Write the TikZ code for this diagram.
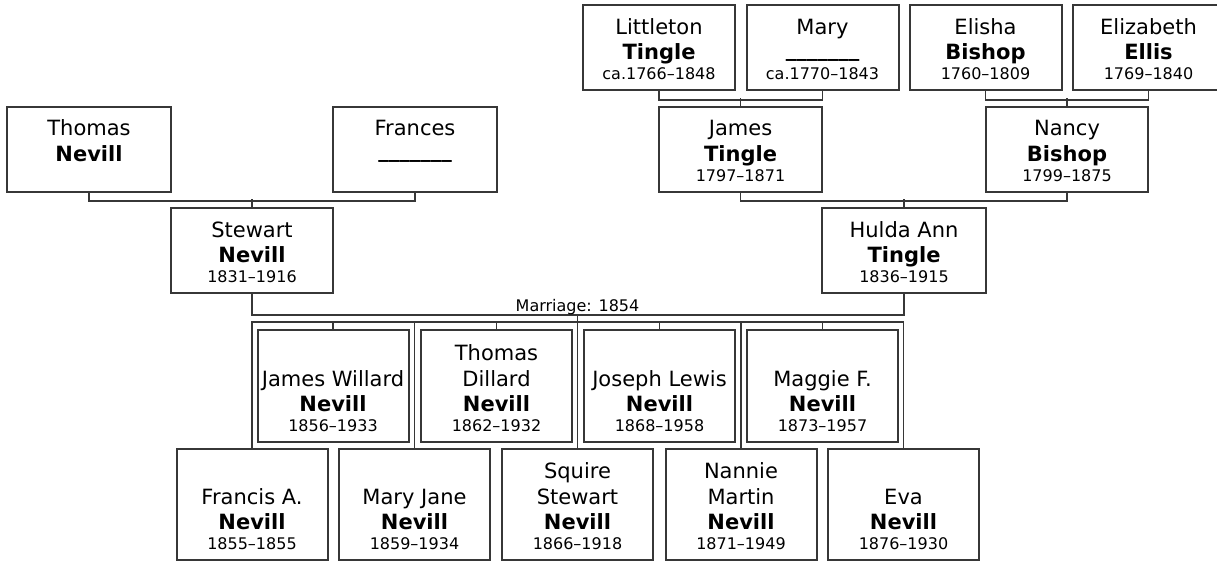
\documentclass[tikz,border=0pt]{standalone}
\usepackage{fontspec}
\setmainfont{DejaVu Sans}
\usetikzlibrary{calc}
\definecolor{lineC}{RGB}{ 55, 55, 55}
\tikzset{
  pbox/.style = {draw=lineC, line width=2pt, inner sep=0pt,
                 minimum height=85pt, font=\fontsize{21}{25.4}\selectfont},
  kbox/.style = {pbox, minimum width=151pt},
  link/.style = {draw=lineC, line width=1.8pt},
  wed/.style  = {font=\fontsize{16}{20}\selectfont, anchor=base, inner sep=0pt},
}
\newcommand{\dates}[1]{{\fontsize{16}{20}\selectfont #1}}
\newcommand{\blank}{\raisebox{3.5pt}{\textbf{\_\_\_\_\_\_\_}}}
% parents: text from the top, children: text down to the bottom
\newcommand{\elder}[1]{\vbox to 85pt{\hsize=150pt\parindent=0pt\centering
  \rule{0pt}{29pt}#1\par\vss}}
\newcommand{\kid}[2]{\vbox to #1{\hsize=150pt\parindent=0pt\centering
  \vss #2\par\vskip10pt}}

\begin{document}
\begin{tikzpicture}[x=1pt, y=1pt]
\useasboundingbox (0,0) rectangle (1217,-561);

% ---- Great-grandparents -----------------------------------------------------
\node[pbox, minimum width=152pt] (lit) at (659,-48)
  {\elder{Littleton\\\textbf{Tingle}\\[-5.4pt]\dates{ca.1766–1848}}};
\node[pbox, minimum width=152pt] (mary) at (822.5,-48)
  {\elder{Mary\\\blank\\[-5.4pt]\dates{ca.1770–1843}}};
\node[pbox, minimum width=152pt] (elisha) at (985.5,-48)
  {\elder{Elisha\\\textbf{Bishop}\\[-5.4pt]\dates{1760–1809}}};
\node[pbox, minimum width=152pt] (eliz) at (1148.5,-48)
  {\elder{Elizabeth\\\textbf{Ellis}\\[-5.4pt]\dates{1769–1840}}};

% ---- Grandparents -----------------------------------------------------------
\node[pbox, minimum width=164pt] (thomas) at (89,-149.5)
  {\elder{Thomas\\\textbf{Nevill}}};
\node[pbox, minimum width=164pt] (frances) at (415,-149.5)
  {\elder{Frances\\\blank}};
\node[pbox, minimum width=163pt] (jamesT) at (740.5,-149.5)
  {\elder{James\\\textbf{Tingle}\\[-5.4pt]\dates{1797–1871}}};
\node[pbox, minimum width=162pt] (nancy) at (1067,-149.5)
  {\elder{Nancy\\\textbf{Bishop}\\[-5.4pt]\dates{1799–1875}}};

% ---- Parents ----------------------------------------------------------------
\node[pbox, minimum width=162pt] (stewart) at (252,-250.5)
  {\elder{Stewart\\\textbf{Nevill}\\[-5.4pt]\dates{1831–1916}}};
\node[pbox, minimum width=164pt] (hulda) at (904,-250.5)
  {\elder{Hulda Ann\\\textbf{Tingle}\\[-5.4pt]\dates{1836–1915}}};

% ---- Children (upper row) ---------------------------------------------------
\node[kbox, minimum height=112pt] (jw) at (333,-386)
  {\kid{112pt}{James Willard\\\textbf{Nevill}\\[-5.4pt]\dates{1856–1933}}};
\node[kbox, minimum height=112pt] (td) at (496.5,-386)
  {\kid{112pt}{Thomas\\Dillard\\\textbf{Nevill}\\[-5.4pt]\dates{1862–1932}}};
\node[kbox, minimum height=112pt] (jl) at (659.5,-386)
  {\kid{112pt}{Joseph Lewis\\\textbf{Nevill}\\[-5.4pt]\dates{1868–1958}}};
\node[kbox, minimum height=112pt] (mf) at (822.5,-386)
  {\kid{112pt}{Maggie F.\\\textbf{Nevill}\\[-5.4pt]\dates{1873–1957}}};

% ---- Children (lower row) ---------------------------------------------------
\node[kbox, minimum height=111pt] (fa) at (252,-504.5)
  {\kid{111pt}{Francis A.\\\textbf{Nevill}\\[-5.4pt]\dates{1855–1855}}};
\node[kbox, minimum height=111pt] (mj) at (414.5,-504.5)
  {\kid{111pt}{Mary Jane\\\textbf{Nevill}\\[-5.4pt]\dates{1859–1934}}};
\node[kbox, minimum height=111pt] (ss) at (577.5,-504.5)
  {\kid{111pt}{Squire\\Stewart\\\textbf{Nevill}\\[-5.4pt]\dates{1866–1918}}};
\node[kbox, minimum height=111pt] (nm) at (741,-504.5)
  {\kid{111pt}{Nannie\\Martin\\\textbf{Nevill}\\[-5.4pt]\dates{1871–1949}}};
\node[kbox, minimum height=111pt] (ev) at (903.5,-504.5)
  {\kid{111pt}{Eva\\\textbf{Nevill}\\[-5.4pt]\dates{1876–1930}}};

% ---- Couples ----------------------------------------------------------------
\draw[link] (lit.south) -- ++(0,-8.5) -| (mary.south);
\draw[link] (jamesT.north) -- ++(0,8);
\draw[link] (elisha.south) -- ++(0,-8.5) -| (eliz.south);
\draw[link] (nancy.north) -- ++(0,8);
\draw[link] (thomas.south) -- ++(0,-8) -| (frances.south);
\draw[link] (stewart.north) -- ++(0,8);
\draw[link] (jamesT.south) -- ++(0,-8) -| (nancy.south);
\draw[link] (hulda.north) -- ++(0,8);

% Marriage line
\draw[link] (stewart.south) -- ++(0,-21) coordinate (w) -| (hulda.south);
\node[wed] (marriage) at ($(ss.north |- w)+(0,3.5)$) {Marriage: 1854};

% ---- Siblings ---------------------------------------------------------------
\coordinate (sib) at (0,-322);
\draw[link] (fa.north) -- (fa.north |- sib) -- (ev.north |- sib) -- (ev.north);
\foreach \k in {mj, nm}
  \draw[link] (\k.north) -- (\k.north |- sib);
\draw[link] (ss.north) -- (ss.north |- w);
\foreach \k in {jw, td, jl, mf}
  \draw[link] (\k.north) -- (\k.north |- sib);

\end{tikzpicture}
\end{document}
